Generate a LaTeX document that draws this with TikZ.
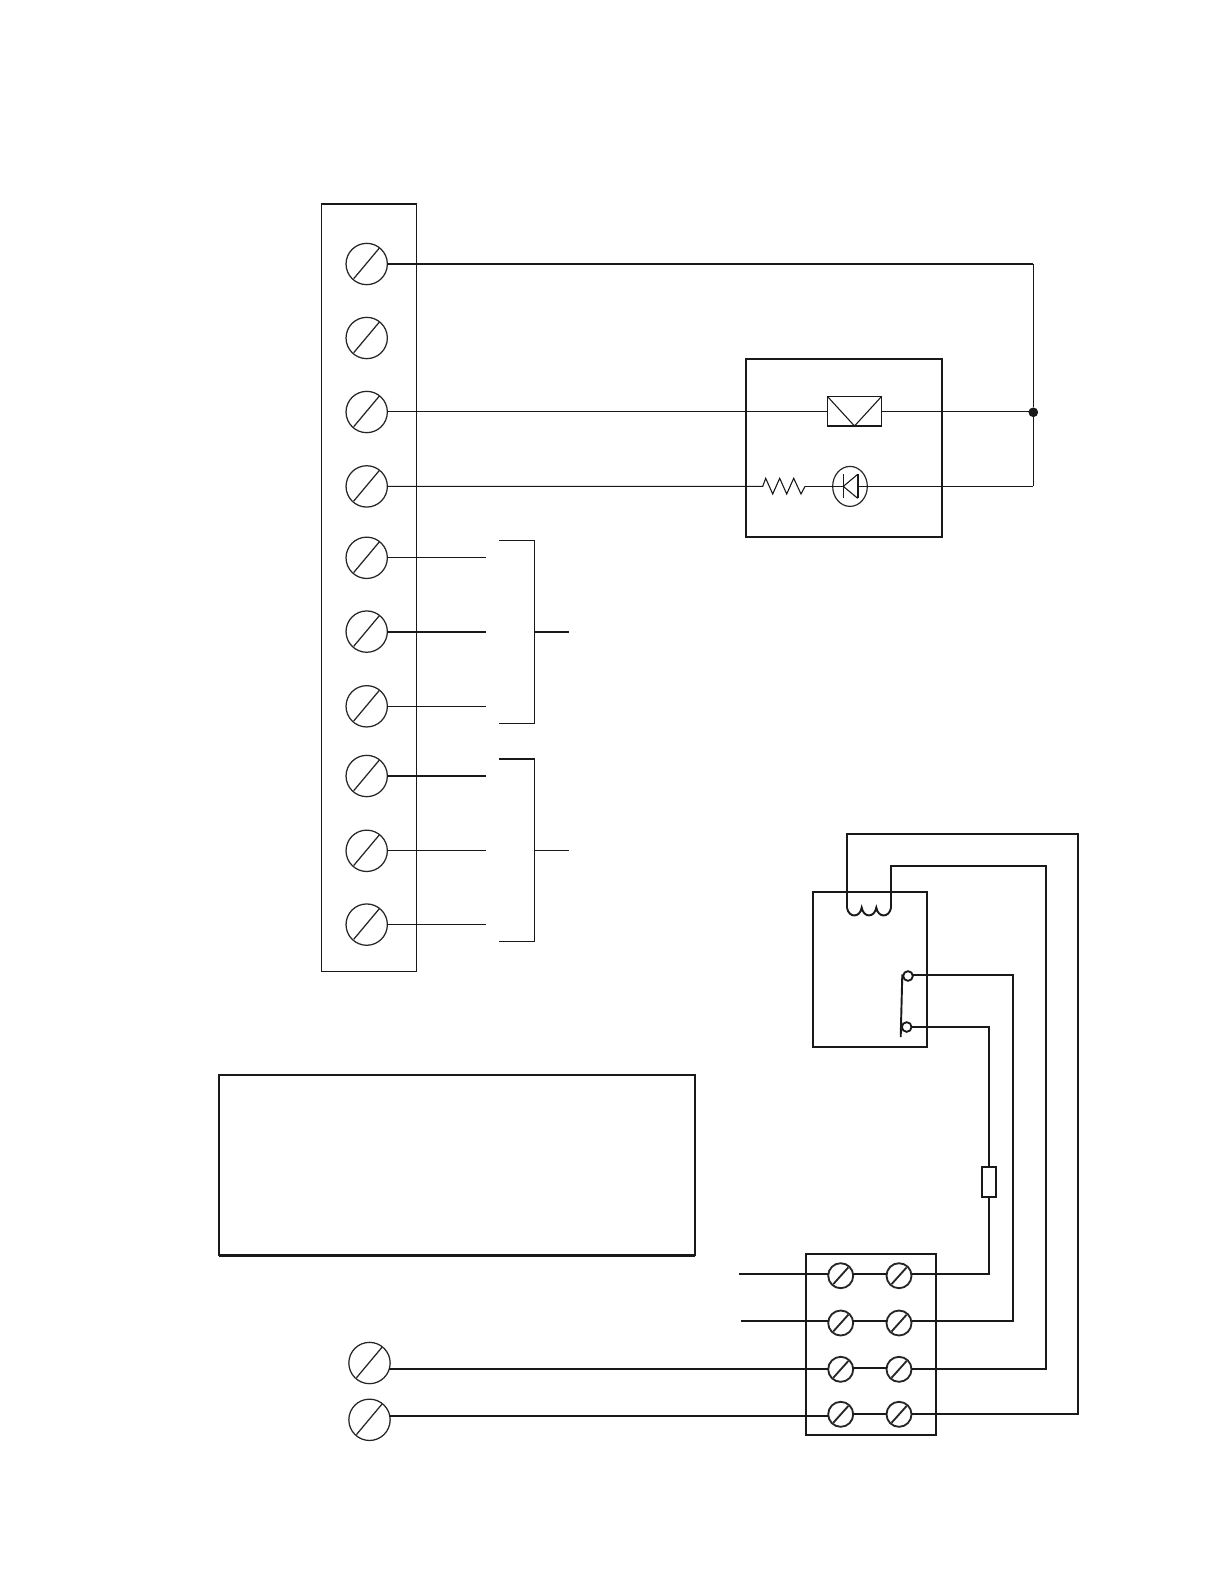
\documentclass[tikz,border=0pt]{standalone}
\usetikzlibrary{calc,shapes.geometric}
\tikzset{
  x=0.6pt,y=-0.6pt,
  thinw/.style={line width=0.65pt,black!90},
  medw/.style={line width=1.15pt,black!90},
  boxthick/.style={line width=1.4pt,black!90},
  scr/.style={circle,draw,inner sep=0pt,outer sep=0pt,black!85},
  bigscr/.style={scr,line width=0.75pt,minimum size=24.8pt},
  smallscr/.style={scr,line width=1.1pt,minimum size=15pt},
  dotn/.style={circle,fill=black!90,inner sep=0pt,minimum size=5.8pt},
  contact/.style={circle,draw=black!90,fill=white,line width=1.1pt,inner sep=0pt,outer sep=0pt,minimum size=5.8pt},
}
\newcommand{\bigscrew}[3]{\node[bigscr] (#1) at (#2,#3) {};
  \draw[line width=0.75pt,black!85] (#1.center) ++(-13,14.7) -- ++(25.7,-30.7);}
\newcommand{\smallscrew}[3]{\node[smallscr] (#1) at (#2,#3) {};
  \draw[line width=1.1pt,black!85] (#1.center) ++(-7.4,8.4) -- ++(15,-16.7);}
\newcommand{\boxn}[7][]{%
  \pgfmathsetmacro{\bw}{(#5-#3)*0.6}\pgfmathsetmacro{\bh}{(#6-#4)*0.6}%
  \node[rectangle,draw,inner sep=0pt,outer sep=0pt,minimum width=\bw pt,minimum height=\bh pt,#7,#1] (#2) at ({(#3+#5)/2},{(#4+#6)/2}) {};}
\begin{document}
\begin{tikzpicture}
\useasboundingbox (0,0) rectangle (1224,1584);
\fill[white] (0,0) rectangle (1224,1584);
% main terminal strip
\boxn{strip}{321.7}{204}{416.7}{971.4}{thinw}
\draw[medw] (strip.north west) -- (strip.north east);
\bigscrew{a}{366.7}{264}
\bigscrew{b}{366.7}{338}
\bigscrew{c}{366.7}{412}
\bigscrew{d}{366.7}{486.4}
\bigscrew{e}{366.7}{557.8}
\bigscrew{f}{366.7}{631.6}
\bigscrew{g}{366.7}{706.3}
\bigscrew{h}{366.7}{776}
\bigscrew{i}{366.7}{850.8}
\bigscrew{j}{366.7}{924.6}
% detector panel
\boxn{panel}{745.7}{359}{942}{536.7}{boxthick}
\boxn{lamp}{827.3}{396.3}{881.7}{426}{thinw}
\draw[thinw] (lamp.north west) -- (lamp.south) -- (lamp.north east);
\draw[medw] (lamp.south west) -- (lamp.south east);
\node[dotn] (node) at (1033.3,412.3) {};
\coordinate (ktop) at (1033.3,264);
\coordinate (kbot) at (1033.3,486.4);
\coordinate (cw) at ($(c.east)+(0,-0.7)$);
\draw[medw] (a.east) -- (ktop);
\draw[thinw] (ktop) -- (node) -- (kbot);
\draw[thinw] (cw) -- (cw -| lamp.west);
\draw[thinw] (lamp.east |- cw) -- (node.center |- cw);
% resistor + led
\coordinate (rl) at (762.7,486.4);
\coordinate (rr) at (805,486.4);
\draw[thinw] (d.east) -- (rl) -- (765.7,478.3) -- (772.7,494) -- (779.7,478.3) -- (786.7,494) -- (793.7,478.3) -- (801,494) -- (rr);
\node[ellipse,draw,line width=0.7pt,black!85,inner sep=0pt,outer sep=0pt,minimum width=20.8pt,minimum height=24pt] (led) at (850,486.4) {};
\coordinate (ap) at (843.3,486.4);
\coordinate (tb) at (857.7,486.4);
\draw[thinw] (rr) -- (ap);
\draw[thinw] (843.3,474.3) -- (843.3,498.3);
\draw[thinw] (857.7,474.3) -- (ap) -- (857.7,498.3);
\draw[medw] (857.7,474.3) -- (857.7,498.3);
\draw[thinw] (tb) -- (kbot);
% bracket groups
\coordinate (e1) at (486,557.8);\coordinate (f1) at (486,631.6);\coordinate (g1) at (486,706.3);
\coordinate (h1) at (486,776);\coordinate (i1) at (486,850.8);\coordinate (j1) at (486,924.6);
\draw[thinw] (e.east) -- (e1);
\draw[medw] (f.east) -- (f1);
\draw[thinw] (g.east) -- (g1);
\draw[medw] (h.east) -- (h1);
\draw[thinw] (i.east) -- (i1);
\draw[thinw] (j.east) -- (j1);
\coordinate (b1a) at (499.2,540.6);\coordinate (b1b) at (534.6,540.6);\coordinate (b1c) at (534.6,723.5);\coordinate (b1d) at (499.2,723.5);
\coordinate (b1m) at (534.6,631.6);\coordinate (b1s) at (569,631.6);
\draw[thinw] (b1a) -- (b1b) -- (b1c) -- (b1d);
\draw[medw] (b1m) -- (b1s);
\coordinate (b2a) at (499.2,758.9);\coordinate (b2b) at (534.6,758.9);\coordinate (b2c) at (534.6,941.8);\coordinate (b2d) at (499.2,941.8);
\coordinate (b2m) at (534.6,850.8);\coordinate (b2s) at (569,850.8);
\draw[thinw] (b2b) -- (b2c) -- (b2d);
\draw[medw] (b2a) -- (b2b);
\draw[thinw] (b2m) -- (b2s);
% large empty box
\boxn{legend}{219.3}{1075.2}{695.2}{1255}{boxthick}
\draw[line width=1.8pt,black!90] (legend.south west) -- (legend.south east);
% relay
\boxn{relay}{812.7}{892}{927}{1046.9}{medw}
\node[contact] (cta) at (908,976) {};
\node[contact] (ctb) at (906.7,1027) {};
\coordinate (bla) at (902.3,974.3);
\coordinate (blb) at (900.7,1037);
\draw[medw] (bla) -- (blb);
% lower terminal block
\boxn{block}{805.7}{1254}{936}{1435}{medw}
\smallscrew{p1}{840.7}{1275.7}
\smallscrew{q1}{899}{1275.7}
\smallscrew{p2}{840.7}{1323}
\smallscrew{q2}{899}{1323}
\smallscrew{p3}{840.7}{1369.3}
\smallscrew{q3}{899}{1369.3}
\smallscrew{p4}{840.7}{1414.3}
\smallscrew{q4}{899}{1414.3}
\bigscrew{m}{369.5}{1363}
\bigscrew{n}{369.5}{1419.8}
\coordinate (l1) at (739,1273.7);
\coordinate (l2) at (741,1321);
\coordinate (l3) at ($(m.east)+(-1,6.2)$);
\coordinate (l4) at ($(n.east)+(-1,-4)$);
\coordinate (r4) at (899,1414);
\draw[medw] (l1) -- (l1 -| p1.west);
\draw[medw] (l2) -- (l2 -| p2.west);
\draw[medw] (l3) -- (l3 -| p3.west);
\draw[medw] (l4) -- (l4 -| p4.west);
\draw[medw] (l1 -| p1.east) -- (l1 -| q1.west);
\draw[medw] (l2 -| p2.east) -- (l2 -| q2.west);
\draw[medw] (p3.east) ++(0,-1.3) -- ++(33.3,0);
\draw[medw] (p4.east) -- (q4.west);
% resistor in series
\boxn{fuse}{982.2}{1166.7}{995.8}{1197.3}{medw}
\draw[medw] (ctb.east) -| (fuse.north);
\draw[medw] (fuse.south) |- (l1 -| q1.east);
\coordinate (w2) at (1013,975.4);
\draw[medw] (cta.east |- w2) -- (w2) |- (l2 -| q2.east);
% coil
\coordinate (cl) at (847,908);
\coordinate (cr) at (891,908);
\coordinate (t1) at (847,834);
\coordinate (t1r) at (1078.2,834);
\coordinate (t2) at (891,866);
\coordinate (t2r) at (1046,866);
\draw[medw] (cl) -- (t1) -- (t1r) |- (q4.east);
\draw[medw] (cr) -- (t2) -- (t2r) |- (q3.east);
\draw[medw] (cl) .. controls (849,918) and (860,918) .. (861.7,907.5)
  .. controls (863.4,918) and (874.6,918) .. (876.3,907.5)
  .. controls (878,918) and (889,918) .. (cr);
\end{tikzpicture}
\end{document}
